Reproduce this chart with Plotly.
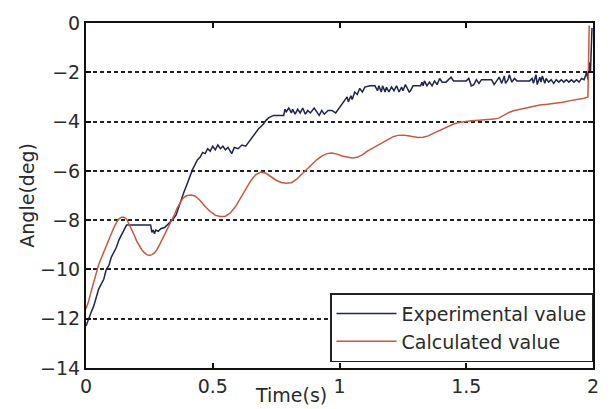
import plotly.graph_objects as go

# ---- data ----
exp_t = [0.0, 0.01, 0.02, 0.03, 0.04, 0.05, 0.06, 0.07, 0.08, 0.09, 0.10, 0.11, 0.12, 0.13, 0.14, 0.15, 0.16,
         0.20, 0.24, 0.255, 0.26, 0.265, 0.27, 0.275, 0.285, 0.295, 0.31, 0.325, 0.34, 0.355, 0.37, 0.385,
         0.40, 0.41, 0.42, 0.43, 0.44, 0.45, 0.46, 0.47, 0.48, 0.49, 0.50, 0.51, 0.52, 0.53, 0.54, 0.55,
         0.56, 0.575, 0.585, 0.60, 0.615, 0.63, 0.64, 0.65, 0.66, 0.67, 0.68, 0.69, 0.70, 0.71, 0.72, 0.74,
         0.78, 0.785, 0.79, 0.80, 0.81, 0.815, 0.825, 0.835, 0.845, 0.855, 0.865, 0.875, 0.885, 0.90, 0.91,
         0.92, 0.93, 0.94, 0.955, 0.97, 0.985, 1.0, 1.01, 1.02, 1.03, 1.035, 1.045, 1.05, 1.06, 1.07, 1.08,
         1.09, 1.10, 1.12, 1.14, 1.15, 1.155, 1.165, 1.17, 1.18, 1.185, 1.195, 1.205, 1.215, 1.225, 1.235,
         1.245, 1.25, 1.26, 1.275, 1.28, 1.29, 1.32, 1.325, 1.33, 1.335, 1.345, 1.355, 1.365, 1.375, 1.385,
         1.395, 1.405, 1.42, 1.43, 1.44, 1.45, 1.50, 1.51, 1.52, 1.53, 1.54, 1.55, 1.56, 1.60, 1.61, 1.62,
         1.63, 1.64, 1.65, 1.655, 1.665, 1.67, 1.68, 1.69, 1.70, 1.75, 1.76, 1.765, 1.775, 1.78, 1.79, 1.795,
         1.80, 1.81, 1.815, 1.825, 1.835, 1.845, 1.855, 1.865, 1.875, 1.885, 1.895, 1.905, 1.915, 1.925,
         1.935, 1.945, 1.955, 1.965, 1.975, 1.98, 1.985, 1.99, 1.993, 1.996]
exp_v = [-12.3, -12.0, -11.75, -11.5, -11.1, -10.8, -10.6, -10.4, -10.0, -9.85, -9.5, -9.3, -9.1, -8.8, -8.6, -8.4, -8.2,
         -8.2, -8.2, -8.2, -8.5, -8.4, -8.55, -8.4, -8.45, -8.35, -8.3, -8.15, -8.0, -7.8, -7.3, -6.9,
         -6.5, -6.2, -5.95, -5.75, -5.55, -5.45, -5.25, -5.3, -5.1, -5.2, -5.0, -5.15, -4.95, -5.1, -5.0, -5.15,
         -5.05, -5.3, -5.05, -5.1, -4.95, -5.0, -4.85, -4.75, -4.55, -4.45, -4.3, -4.2, -4.1, -3.95, -3.85, -3.75,
         -3.75, -3.5, -3.6, -3.45, -3.65, -3.5, -3.7, -3.5, -3.65, -3.45, -3.7, -3.55, -3.65, -3.45, -3.6,
         -3.75, -3.55, -3.7, -3.55, -3.55, -3.65, -3.45, -3.3, -3.15, -3.0, -3.2, -2.95, -3.1, -2.8, -2.9, -2.65,
         -2.8, -2.6, -2.55, -2.55, -2.75, -2.55, -2.8, -2.55, -2.8, -2.6, -2.8, -2.6, -2.75, -2.55, -2.8,
         -2.6, -2.75, -2.5, -2.8, -2.75, -2.55, -2.55, -2.4, -2.55, -2.35, -2.55, -2.4, -2.55, -2.35, -2.5,
         -2.25, -2.4, -2.4, -2.3, -2.2, -2.35, -2.35, -2.25, -2.55, -2.5, -2.3, -2.45, -2.3, -2.3, -2.5, -2.35,
         -2.2, -2.45, -2.15, -2.45, -2.3, -2.1, -2.4, -2.25, -2.35, -2.35, -2.25, -2.45, -2.1, -2.5, -2.2, -2.4,
         -2.15, -2.45, -2.25, -2.4, -2.3, -2.45, -2.3, -2.4, -2.3, -2.4, -2.3, -2.4, -2.3, -2.4,
         -2.3, -2.4, -2.25, -2.3, -2.0, -2.3, -1.6, -2.0, -0.8, -0.2]

calc_t = [0.0, 0.01, 0.02, 0.03, 0.04, 0.05, 0.06, 0.07, 0.08, 0.09, 0.10, 0.11, 0.12, 0.13, 0.14, 0.15, 0.16,
          0.17, 0.18, 0.19, 0.20, 0.21, 0.22, 0.23, 0.24, 0.25, 0.26, 0.27, 0.28, 0.29, 0.30, 0.31, 0.32,
          0.33, 0.34, 0.35, 0.36, 0.37, 0.38, 0.39, 0.40, 0.415, 0.43, 0.45, 0.47, 0.49, 0.51, 0.53, 0.55,
          0.57, 0.59, 0.61, 0.63, 0.65, 0.67, 0.69, 0.71, 0.73, 0.75, 0.77, 0.79, 0.81, 0.83, 0.85, 0.87,
          0.89, 0.91, 0.93, 0.95, 0.97, 0.99, 1.01, 1.03, 1.05, 1.07, 1.09, 1.11, 1.13, 1.15, 1.17, 1.19,
          1.21, 1.23, 1.25, 1.27, 1.29, 1.31, 1.33, 1.35, 1.37, 1.39, 1.41, 1.43, 1.45, 1.47, 1.49, 1.52,
          1.55, 1.58, 1.61, 1.63, 1.65, 1.67, 1.69, 1.71, 1.73, 1.75, 1.77, 1.79, 1.82, 1.85, 1.88, 1.91,
          1.94, 1.965, 1.98, 1.982, 1.985]
calc_v = [-11.6, -11.3, -10.9, -10.5, -10.1, -9.8, -9.55, -9.3, -9.0, -8.75, -8.5, -8.3, -8.1, -7.95, -7.88, -7.88, -7.95,
          -8.15, -8.35, -8.6, -8.85, -9.05, -9.2, -9.32, -9.4, -9.43, -9.4, -9.33, -9.2, -9.0, -8.8, -8.6, -8.4,
          -8.2, -8.0, -7.75, -7.5, -7.3, -7.15, -7.05, -7.0, -6.98, -7.02, -7.2, -7.45, -7.65, -7.8, -7.85, -7.84,
          -7.7, -7.45, -7.1, -6.75, -6.4, -6.15, -6.05, -6.1, -6.25, -6.38, -6.47, -6.5, -6.48, -6.35, -6.15, -5.95,
          -5.75, -5.55, -5.4, -5.3, -5.28, -5.32, -5.4, -5.45, -5.48, -5.45, -5.35, -5.2, -5.08, -4.98, -4.85, -4.72,
          -4.62, -4.56, -4.55, -4.58, -4.62, -4.65, -4.64, -4.58, -4.48, -4.38, -4.27, -4.18, -4.1, -4.04, -4.0, -3.97,
          -3.95, -3.93, -3.9, -3.85, -3.72, -3.62, -3.55, -3.5, -3.45, -3.4, -3.35, -3.33, -3.3, -3.27, -3.22, -3.15,
          -3.1, -3.05, -3.0, -1.5, -0.1]

x_ticks = [0, 0.5, 1, 1.5, 2]
x_tick_text = ["0", "0.5", "1", "1.5", "2"]
y_ticks = [0, -2, -4, -6, -8, -10, -12, -14]
y_tick_text = ["0", "−2", "−4", "−6", "−8", "−10", "−12", "−14"]

FONT = "DejaVu Sans"
TXT = "#2a2a2a"

fig = go.Figure()
fig.add_trace(go.Scatter(x=exp_t, y=exp_v, mode="lines", name="Experimental value",
                         line=dict(color="#1d2550", width=1.5)))
fig.add_trace(go.Scatter(x=calc_t, y=calc_v, mode="lines", name="Calculated value",
                         line=dict(color="#c45a42", width=1.5)))

axis_common = dict(showline=True, linecolor="#111", linewidth=2, mirror="ticks",
                   ticks="inside", ticklen=5, tickwidth=2, tickcolor="#111",
                   zeroline=False, tickfont=dict(family=FONT, size=19, color=TXT))

fig.update_xaxes(range=[0, 2], tickvals=x_ticks, ticktext=x_tick_text, showgrid=False,
                 **axis_common)
fig.update_yaxes(range=[-14, 0], tickvals=y_ticks, ticktext=y_tick_text, showgrid=True,
                 gridcolor="#222", gridwidth=1.5, griddash="4px,3px", **axis_common)

fig.add_annotation(text="Time(s)", xref="paper", yref="paper", x=0.405, y=-0.078,
                   yanchor="middle", xanchor="center", showarrow=False,
                   font=dict(family=FONT, size=19, color=TXT))
fig.add_annotation(text="Angle(deg)", xref="paper", yref="paper", x=-0.118, y=0.5,
                   textangle=-90, xanchor="center", yanchor="middle", showarrow=False,
                   font=dict(family=FONT, size=19, color=TXT))

fig.update_layout(
    width=611, height=409,
    margin=dict(l=86, r=14, t=15, b=40),
    paper_bgcolor="white", plot_bgcolor="white",
    showlegend=True,
    legend=dict(x=1.0, y=0.017, xanchor="right", yanchor="bottom",
                bgcolor="white", bordercolor="#222", borderwidth=1.5,
                font=dict(family=FONT, size=19, color=TXT),
                tracegroupgap=0, itemwidth=60),
)

fig.write_html("out.html")
